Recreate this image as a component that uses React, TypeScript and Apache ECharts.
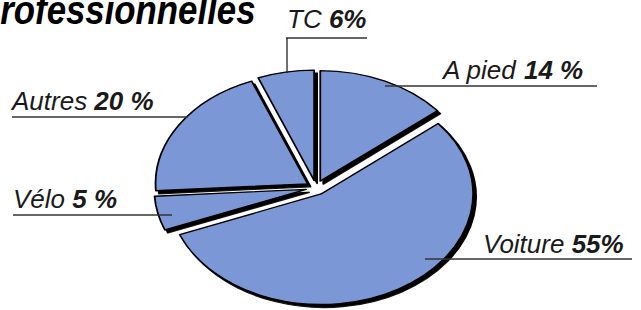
import React, { useEffect, useRef } from "react";
import * as echarts from "echarts";

// ---- data ----
const categories = ["A pied", "Voiture", "Vélo", "Autres", "TC"];
const values = [14, 55, 5, 20, 6];
const valueLabels = ["14 %", "55%", "5 %", "20 %", "6%"];
const titleText = "professionnelles";

// ---- layout ----
const W = 641;
const H = 310;
const TILT = 0.727; // vertical squash of the pie (perspective look)
const PIE_CX = 316;
const PIE_CY = 187.7;
const PIE_R = 152;

// text left x, baseline y, underline x1..x2 at uy, optional vertical leader down to vy
const labelLayout = [
  { tx: 443, by: 79, ux1: 385, ux2: 597, uy: 86 },
  { tx: 483, by: 253, ux1: 425, ux2: 632, uy: 259 },
  { tx: 13, by: 208, ux1: 13, ux2: 172, uy: 215 },
  { tx: 12, by: 110, ux1: 12, ux2: 188, uy: 117 },
  { tx: 287, by: 28, ux1: 286, ux2: 367, uy: 38, vy: 73 },
];

const FONT = "'Liberation Sans', Arial, sans-serif";
const LABEL_SIZE = 26;

export default function App() {
  const pieRef = useRef<HTMLDivElement>(null);
  const textRef = useRef<HTMLDivElement>(null);

  useEffect(() => {
    if (!pieRef.current || !textRef.current) return;
    const pie = echarts.init(pieRef.current, undefined, { renderer: "svg" });
    const txt = echarts.init(textRef.current, undefined, { renderer: "svg" });

    const sliceStyle = {
      color: "#7b97d5",
      borderColor: "#000",
      borderWidth: 1.8,
      shadowColor: "#000",
      shadowBlur: 0,
      shadowOffsetX: 3,
      shadowOffsetY: 4,
    };

    pie.setOption({
      animation: false,
      series: [
        {
          type: "pie",
          center: [PIE_CX, PIE_CY / TILT],
          radius: PIE_R,
          startAngle: 90,
          clockwise: true,
          selectedMode: "multiple",
          selectedOffset: 10,
          silent: true,
          label: { show: false },
          labelLine: { show: false },
          emphasis: { disabled: true },
          itemStyle: sliceStyle,
          select: { itemStyle: sliceStyle },
          data: categories.map((n, i) => ({ name: n, value: values[i], selected: true })),
        },
      ],
    });

    const mid = 0.3465;
    const graphics: any[] = [];
    graphics.push({
      type: "text",
      x: -21,
      y: 24 - mid * 40,
      scaleX: 0.87,
      style: {
        text: titleText,
        fontFamily: FONT,
        fontSize: 40,
        fontWeight: "bold",
        fontStyle: "italic",
        fill: "#000",
        align: "left",
        verticalAlign: "middle",
      },
    });
    labelLayout.forEach((l, i) => {
      graphics.push({
        type: "line",
        shape: { x1: l.ux1, y1: l.uy, x2: l.ux2, y2: l.uy },
        style: { stroke: "#333", lineWidth: 1.3 },
      });
      if (l.vy !== undefined) {
        graphics.push({
          type: "line",
          shape: { x1: l.ux1 + 1, y1: l.uy, x2: l.ux1 + 1, y2: l.vy },
          style: { stroke: "#222", lineWidth: 1.3 },
        });
      }
      graphics.push({
        type: "text",
        x: l.tx,
        y: l.by - mid * LABEL_SIZE,
        style: {
          text: `${categories[i]} {b|${valueLabels[i]}}`,
          fontFamily: FONT,
          fontSize: LABEL_SIZE,
          fontStyle: "italic",
          fill: "#1a1a1a",
          align: "left",
          verticalAlign: "middle",
          rich: {
            b: {
              fontFamily: FONT,
              fontSize: LABEL_SIZE,
              fontStyle: "italic",
              fontWeight: "bold",
              fill: "#1a1a1a",
            },
          },
        },
      });
    });

    txt.setOption({ animation: false, graphic: { elements: graphics } });

    return () => {
      pie.dispose();
      txt.dispose();
    };
  }, []);

  return (
    <div
      style={{
        position: "fixed",
        left: 0,
        top: 0,
        width: W,
        height: H,
        overflow: "hidden",
        background: "#fff",
      }}
    >
      <div
        ref={pieRef}
        style={{
          position: "absolute",
          left: 0,
          top: 0,
          width: W,
          height: Math.round(H / TILT),
          transform: `scaleY(${TILT})`,
          transformOrigin: "0 0",
        }}
      />
      <div
        ref={textRef}
        style={{ position: "absolute", left: 0, top: 0, width: W, height: H }}
      />
    </div>
  );
}
